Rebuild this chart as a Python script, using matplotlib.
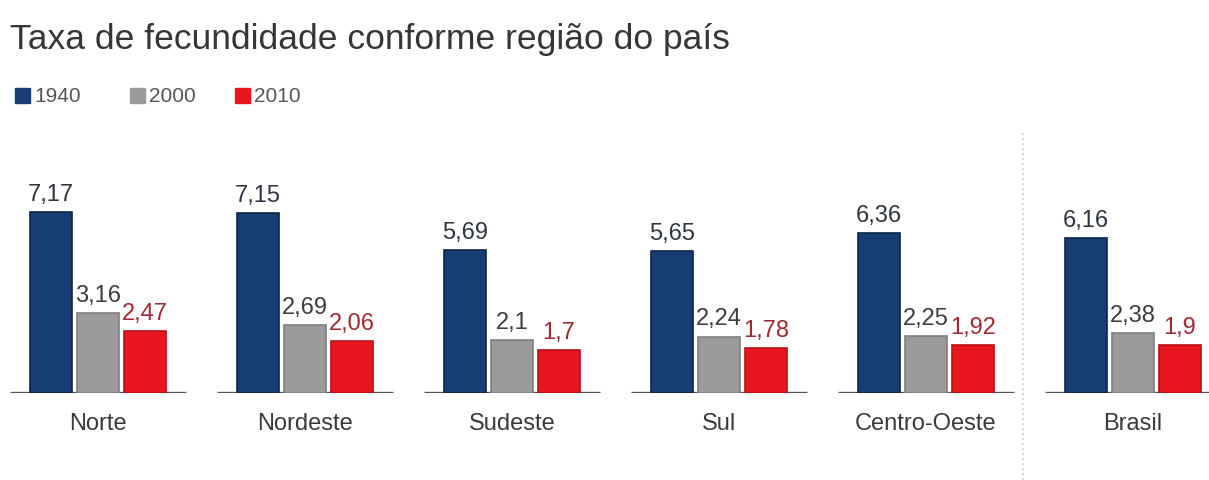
import matplotlib.pyplot as plt
import numpy as np

regioes = ['Norte', 'Nordeste', 'Sudeste', 'Sul', 'Centro-Oeste', 'Brasil']
anos = ['1940', '2000', '2010']
taxa_1940 = [7.17, 7.15, 5.69, 5.65, 6.36, 6.16]
taxa_2000 = [3.16, 2.69, 2.10, 2.24, 2.25, 2.38]
taxa_2010 = [2.47, 2.06, 1.70, 1.78, 1.92, 1.90]

cores = ['#173e72', '#9b9b9b', '#e8161f']
bordas = ['#0d2548', '#7f7f7f', '#b81018']
cores_rot = ['#2e3440', '#3d3d3d', '#9e2a33']

plt.rcParams['font.family'] = ['Liberation Sans', 'DejaVu Sans']

fig = plt.figure(figsize=(12.09, 4.81), dpi=100)
fig.patch.set_facecolor('white')
# eixo ocupa a largura toda; base das barras a 87 px do fundo
ax = fig.add_axes([0, 87 / 481, 1, 254 / 481])
ax.set_xlim(-0.473, 5.367)
ax.set_ylim(0, 10.08)
ax.axis('off')

x = np.arange(len(regioes), dtype=float)
passo = 0.227
largura = 0.203
series = [taxa_1940, taxa_2000, taxa_2010]

for k, valores in enumerate(series):
    pos = x + (k - 1) * passo
    ax.bar(pos, valores, width=largura, color=cores[k], edgecolor=bordas[k],
           linewidth=1.2, zorder=2)
    for xi, v in zip(pos, valores):
        txt = ('%g' % v).replace('.', ',')
        ax.text(xi, v + 0.28, txt, ha='center', va='bottom', fontsize=17,
                color=cores_rot[k], zorder=3)

# linha de base de cada grupo
for xi in x:
    ax.plot([xi - 0.425, xi + 0.425], [0, 0], color='#555555', lw=2.4,
            zorder=1, solid_capstyle='butt')
    ax.text(xi, -0.75, regioes[int(xi)], ha='center', va='top', fontsize=17,
            color='#3a3a3a')

# divisor pontilhado antes de Brasil
fig.add_artist(plt.Line2D([1023 / 1209, 1023 / 1209], [0, 1 - 133 / 481],
                          color='#c8c8c8', lw=1.2, linestyle=(0, (1, 2)),
                          transform=fig.transFigure))

fig.text(10 / 1209, 1 - 40 / 481, 'Taxa de fecundidade conforme região do país',
         fontsize=25.5, color='#363636', va='center', ha='left')

# legenda
leg_x = [15, 130, 235]
for k, ano in enumerate(anos):
    fig.patches.append(plt.Rectangle((leg_x[k] / 1209, 1 - 104 / 481),
                                     15 / 1209, 15 / 481, color=cores[k],
                                     transform=fig.transFigure, figure=fig))
    fig.text((leg_x[k] + 19) / 1209, 1 - 96 / 481, ano, fontsize=15,
             color='#555555', va='center', ha='left')

plt.savefig('out.png', dpi=100)
